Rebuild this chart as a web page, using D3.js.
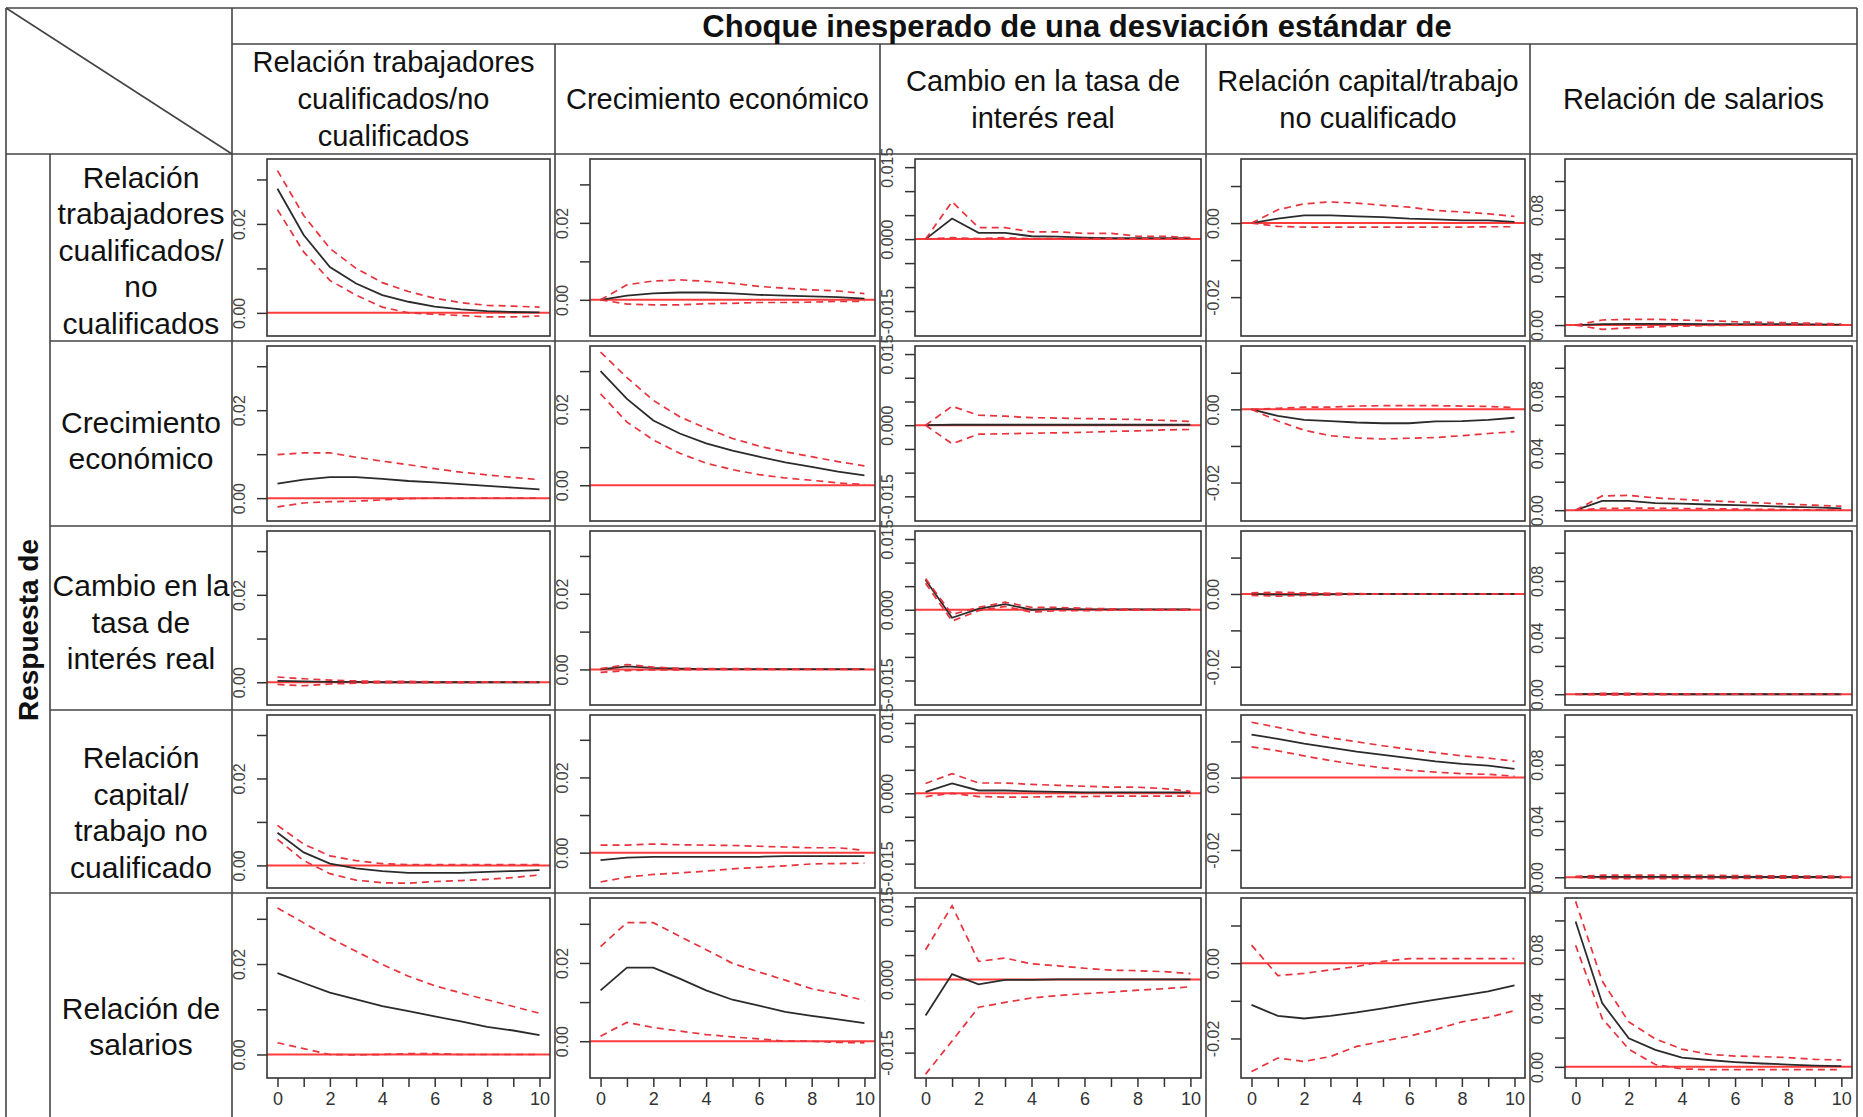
<!DOCTYPE html>
<html>
<head>
<meta charset="utf-8">
<script src="https://cdn.jsdelivr.net/npm/d3@7/dist/d3.min.js"></script>
<style>
  body { margin: 0; background: #fff; }
  svg text { font-family: "Liberation Sans", Arial, sans-serif; fill: #111; }
</style>
</head>
<body>
<div id="chart"></div>
<script>
// -- DATA -- //
const periods = [0, 1, 2, 3, 4, 5, 6, 7, 8, 9, 10];
const evenPeriods = [0, 2, 4, 6, 8, 10];

const titleText = "Choque inesperado de una desviación estándar de";
const responseTitle = "Respuesta de";

// shock columns (header lines)
const shockNames = [
    ["Relación trabajadores", "cualificados/no", "cualificados"],
    ["Crecimiento económico"],
    ["Cambio en la tasa de", "interés real"],
    ["Relación capital/trabajo", "no cualificado"],
    ["Relación de salarios"]
];

// response rows (label lines)
const responseNames = [
    ["Relación", "trabajadores", "cualificados/", "no", "cualificados"],
    ["Crecimiento", "económico"],
    ["Cambio en la", "tasa de", "interés real"],
    ["Relación", "capital/", "trabajo no", "cualificado"],
    ["Relación de", "salarios"]
];

// y range, ticks and labelled ticks of every shock column
const yDomains = [
    [-0.0052, 0.0346],
    [-0.0094, 0.0366],
    [-0.0202, 0.0167],
    [-0.0305, 0.0173],
    [-0.0076, 0.1153]
];
const yTicks = [
    [0, 0.01, 0.02, 0.03],
    [0, 0.01, 0.02, 0.03],
    [-0.015, -0.01, -0.005, 0, 0.005, 0.01, 0.015],
    [-0.02, -0.01, 0, 0.01],
    [0, 0.02, 0.04, 0.06, 0.08, 0.10]
];
const yTickLabels = [
    ["0.00", "", "0.02", ""],
    ["0.00", "", "0.02", ""],
    ["-0.015", "", "", "0.000", "", "", "0.015"],
    ["-0.02", "", "0.00", ""],
    ["0.00", "", "0.04", "", "0.08", ""]
];

// response: relación trabajadores cualificados/no cualificados (one array per shock)
const resp1Irf = [
    [0.0279, 0.0175, 0.0103, 0.0066, 0.0040, 0.0025, 0.0014, 0.0008, 0.0004, 0.0002, 0.0001],
    [0, 0.0011, 0.0017, 0.0019, 0.0019, 0.0017, 0.0013, 0.0011, 0.0009, 0.0007, 0.0003],
    [0, 0.0043, 0.0013, 0.0013, 0.0006, 0.0005, 0.0003, 0.0002, 0.0002, 0.0002, 0.0002],
    [0, 0.0012, 0.0021, 0.0021, 0.0018, 0.0016, 0.0012, 0.0010, 0.0007, 0.0007, 0.0003],
    [0, 0.0007, 0.0008, 0.0008, 0.0008, 0.0007, 0.0007, 0.0006, 0.0006, 0.0005, 0.0003]
];
const resp1Upper = [
    [0.0320, 0.0219, 0.0145, 0.0100, 0.0068, 0.0048, 0.0033, 0.0023, 0.0017, 0.0015, 0.0013],
    [0, 0.0039, 0.0049, 0.0052, 0.0048, 0.0043, 0.0035, 0.0030, 0.0026, 0.0023, 0.0016],
    [0, 0.0078, 0.0024, 0.0024, 0.0015, 0.0015, 0.0012, 0.0012, 0.0006, 0.0006, 0.0003],
    [0, 0.0036, 0.0052, 0.0057, 0.0054, 0.0048, 0.0043, 0.0034, 0.0030, 0.0025, 0.0018],
    [0, 0.0035, 0.0040, 0.0040, 0.0035, 0.0030, 0.0023, 0.0019, 0.0016, 0.0012, 0.0007]
];
const resp1Lower = [
    [0.0232, 0.0137, 0.0073, 0.0040, 0.0013, 0.0000, -0.0003, -0.0006, -0.0009, -0.0009, -0.0007],
    [0, -0.0011, -0.0013, -0.0013, -0.0010, -0.0009, -0.0007, -0.0007, -0.0006, -0.0004, -0.0004],
    [0, 0.0003, 0.0001, 0.0003, 0.0001, 0.0001, 0.0001, 0.0001, 0.0001, 0.0001, 0.0001],
    [0, -0.0009, -0.0011, -0.0011, -0.0011, -0.0011, -0.0011, -0.0011, -0.0011, -0.0010, -0.0010],
    [0, -0.0030, -0.0019, -0.0012, -0.0007, -0.0003, -0.0001, 0, 0, 0, 0]
];

// response: crecimiento económico
const resp2Irf = [
    [0.0033, 0.0042, 0.0048, 0.0048, 0.0044, 0.0039, 0.0036, 0.0032, 0.0028, 0.0024, 0.0020],
    [0.0300, 0.0227, 0.0170, 0.0136, 0.0110, 0.0091, 0.0075, 0.0060, 0.0048, 0.0036, 0.0026],
    [0, 0.0001, 0.0001, 0.0001, 0.0001, 0.0001, 0.0001, 0.0001, 0.0001, 0.0001, 0.0001],
    [0, -0.0018, -0.0029, -0.0032, -0.0036, -0.0038, -0.0038, -0.0033, -0.0032, -0.0029, -0.0023],
    [0, 0.0065, 0.0065, 0.0050, 0.0046, 0.0040, 0.0035, 0.0030, 0.0023, 0.0019, 0.0012]
];
const resp2Upper = [
    [0.0099, 0.0103, 0.0103, 0.0093, 0.0084, 0.0076, 0.0067, 0.0059, 0.0053, 0.0047, 0.0042],
    [0.0350, 0.0283, 0.0223, 0.0180, 0.0150, 0.0123, 0.0103, 0.0088, 0.0075, 0.0062, 0.0051],
    [0, 0.0040, 0.0021, 0.0019, 0.0016, 0.0015, 0.0014, 0.0013, 0.0012, 0.0010, 0.0008],
    [0, 0.0003, 0.0006, 0.0006, 0.0009, 0.0010, 0.0010, 0.0010, 0.0009, 0.0008, 0.0005],
    [0, 0.0100, 0.0104, 0.0086, 0.0076, 0.0065, 0.0058, 0.0051, 0.0042, 0.0035, 0.0028]
];
const resp2Lower = [
    [-0.0020, -0.0011, -0.0008, -0.0007, -0.0004, -0.0001, 0, 0, 0, 0, 0],
    [0.0240, 0.0166, 0.0119, 0.0084, 0.0058, 0.0041, 0.0028, 0.0019, 0.0013, 0.0006, 0.0002],
    [0, -0.0039, -0.0019, -0.0018, -0.0017, -0.0016, -0.0015, -0.0013, -0.0012, -0.0010, -0.0009],
    [0, -0.0032, -0.0057, -0.0072, -0.0078, -0.0081, -0.0079, -0.0077, -0.0072, -0.0066, -0.0061],
    [0, 0.0012, 0.0014, 0.0014, 0.0012, 0.0010, 0.0008, 0.0006, 0.0004, 0.0002, 0]
];

// response: cambio en la tasa de interés real
const resp3Irf = [
    [0.0003, 0.0002, 0.0001, 0.0001, 0, 0, 0, 0, 0, 0, 0],
    [0, 0.0008, 0.0004, 0.0002, 0.0001, 0.0001, 0.0001, 0.0001, 0.0001, 0.0001, 0.0001],
    [0.0063, -0.0017, 0.0002, 0.0012, 0.0000, 0.0002, 0.0001, 0.0001, 0.0001, 0.0001, 0.0001],
    [0, -0.0002, -0.0002, -0.0001, 0, 0, 0, 0, 0, 0, 0],
    [0, 0.0002, 0.0002, 0.0001, 0, 0, 0, 0, 0, 0, 0]
];
const resp3Upper = [
    [0.0012, 0.0008, 0.0005, 0.0003, 0.0002, 0.0002, 0.0001, 0.0001, 0.0001, 0.0001, 0.0001],
    [0.0002, 0.0013, 0.0006, 0.0003, 0.0002, 0.0002, 0.0002, 0.0001, 0.0001, 0.0001, 0.0001],
    [0.0066, -0.0010, 0.0005, 0.0016, 0.0005, 0.0005, 0.0003, 0.0002, 0.0001, 0.0001, 0.0001],
    [0.0003, 0.0005, 0.0003, 0.0002, 0.0001, 0, 0, 0, 0, 0, 0],
    [0, 0.0007, 0.0006, 0.0004, 0.0002, 0.0001, 0, 0, 0, 0, 0]
];
const resp3Lower = [
    [-0.0005, -0.0008, -0.0004, -0.0002, -0.0001, -0.0001, -0.0001, -0.0001, 0, 0, 0],
    [-0.0008, -0.0003, -0.0001, -0.0001, 0, 0, 0, 0, 0, 0, 0],
    [0.0056, -0.0024, -0.0002, 0.0007, -0.0005, -0.0002, -0.0002, -0.0001, -0.0001, -0.0001, -0.0001],
    [-0.0004, -0.0006, -0.0004, -0.0003, -0.0001, 0, 0, 0, 0, 0, 0],
    [0, -0.0005, -0.0004, -0.0003, -0.0001, 0, 0, 0, 0, 0, 0]
];

// response: relación capital/trabajo no cualificado
const resp4Irf = [
    [0.0075, 0.0030, 0.0004, -0.0007, -0.0013, -0.0017, -0.0017, -0.0017, -0.0015, -0.0013, -0.0011],
    [-0.0020, -0.0013, -0.0011, -0.0011, -0.0011, -0.0011, -0.0011, -0.0009, -0.0009, -0.0009, -0.0009],
    [0.0003, 0.0021, 0.0006, 0.0006, 0.0004, 0.0003, 0.0002, 0.0002, 0.0002, 0.0002, 0.0002],
    [0.0119, 0.0107, 0.0094, 0.0083, 0.0072, 0.0063, 0.0054, 0.0045, 0.0038, 0.0033, 0.0024],
    [0.0003, 0.0003, 0.0003, 0.0003, 0.0003, 0.0003, 0.0002, 0.0002, 0.0002, 0.0002, 0.0002]
];
const resp4Upper = [
    [0.0092, 0.0049, 0.0022, 0.0011, 0.0004, 0.0002, 0.0002, 0.0002, 0.0002, 0.0002, 0.0002],
    [0.0020, 0.0020, 0.0023, 0.0021, 0.0020, 0.0019, 0.0017, 0.0015, 0.0013, 0.0013, 0.0006],
    [0.0021, 0.0042, 0.0022, 0.0022, 0.0019, 0.0017, 0.0015, 0.0013, 0.0013, 0.0010, 0.0004],
    [0.0153, 0.0139, 0.0123, 0.0110, 0.0099, 0.0088, 0.0078, 0.0069, 0.0060, 0.0054, 0.0045],
    [0.0006, 0.0015, 0.0015, 0.0015, 0.0015, 0.0014, 0.0012, 0.0011, 0.0010, 0.0009, 0.0008]
];
const resp4Lower = [
    [0.0060, 0.0011, -0.0019, -0.0034, -0.0040, -0.0041, -0.0037, -0.0035, -0.0032, -0.0028, -0.0022],
    [-0.0078, -0.0065, -0.0058, -0.0054, -0.0049, -0.0043, -0.0039, -0.0035, -0.0030, -0.0029, -0.0028],
    [-0.0007, 0.0000, -0.0007, -0.0008, -0.0008, -0.0007, -0.0007, -0.0006, -0.0006, -0.0006, -0.0006],
    [0.0085, 0.0074, 0.0060, 0.0047, 0.0036, 0.0027, 0.0020, 0.0015, 0.0011, 0.0009, 0.0004],
    [0.0001, -0.0010, -0.0010, -0.0010, -0.0010, -0.0009, -0.0008, -0.0007, -0.0006, -0.0005, -0.0005]
];

// response: relación de salarios
const resp5Irf = [
    [0.0180, 0.0158, 0.0137, 0.0122, 0.0107, 0.0096, 0.0084, 0.0073, 0.0061, 0.0053, 0.0043],
    [0.0130, 0.0188, 0.0188, 0.0160, 0.0130, 0.0106, 0.0091, 0.0075, 0.0065, 0.0056, 0.0046],
    [-0.0074, 0.0011, -0.0010, -0.0001, -0.0001, 0, 0, 0, 0, 0, 0],
    [-0.0111, -0.0140, -0.0147, -0.0140, -0.0131, -0.0120, -0.0108, -0.0097, -0.0086, -0.0075, -0.0059],
    [0.0993, 0.0435, 0.0195, 0.0116, 0.0063, 0.0047, 0.0033, 0.0023, 0.0016, 0.0009, 0.0005]
];
const resp5Upper = [
    [0.0324, 0.0291, 0.0258, 0.0228, 0.0199, 0.0173, 0.0152, 0.0136, 0.0121, 0.0106, 0.0091],
    [0.0242, 0.0303, 0.0303, 0.0268, 0.0234, 0.0199, 0.0177, 0.0156, 0.0134, 0.0121, 0.0104],
    [0.0061, 0.0151, 0.0037, 0.0044, 0.0032, 0.0028, 0.0023, 0.0019, 0.0018, 0.0016, 0.0012],
    [0.0048, -0.0033, -0.0027, -0.0018, -0.0009, 0.0005, 0.0012, 0.0012, 0.0012, 0.0012, 0.0012],
    [0.1130, 0.0586, 0.0307, 0.0191, 0.0121, 0.0086, 0.0074, 0.0070, 0.0063, 0.0051, 0.0047]
];
const resp5Lower = [
    [0.0026, 0.0013, 0.0000, -0.0001, 0.0000, 0.0002, 0.0002, 0, 0, 0, 0],
    [0.0013, 0.0048, 0.0035, 0.0026, 0.0017, 0.0011, 0.0006, 0, 0, -0.0003, -0.0004],
    [-0.0194, -0.0126, -0.0057, -0.0047, -0.0038, -0.0033, -0.0029, -0.0026, -0.0022, -0.0019, -0.0015],
    [-0.0288, -0.0252, -0.0261, -0.0248, -0.0221, -0.0207, -0.0194, -0.0176, -0.0156, -0.0144, -0.0126],
    [0.0830, 0.0330, 0.0121, 0.0016, -0.0014, -0.0019, -0.0019, -0.0019, -0.0019, -0.0019, -0.0019]
];

const irfRows = [resp1Irf, resp2Irf, resp3Irf, resp4Irf, resp5Irf];
const upperRows = [resp1Upper, resp2Upper, resp3Upper, resp4Upper, resp5Upper];
const lowerRows = [resp1Lower, resp2Lower, resp3Lower, resp4Lower, resp5Lower];

// -- LAYOUT -- //
let width = 1863;
let height = 1117;

let tableLeft = 6;
let tableTop = 8;
let tableRight = 1857;
let titleBottom = 44;
let headerBottom = 154;
let respCol = 50;
let colEdges = [232, 555, 880, 1206, 1530, 1857];
let rowEdges = [154, 341, 526, 710, 893, 1083];
let rowLabelCenters = [250, 440, 622, 812, 1026];

let lineColor = "#444";

const svg = d3.select("#chart")
    .append("svg")
    .attr("width", width)
    .attr("height", height);

// -- TABLE -- //
let grid = svg.append("g").attr("stroke", lineColor).attr("stroke-width", 1.6);

grid.append("line").attr("x1", tableLeft).attr("y1", tableTop).attr("x2", tableRight).attr("y2", tableTop);
grid.append("line").attr("x1", tableLeft).attr("y1", tableTop).attr("x2", tableLeft).attr("y2", height);
grid.append("line").attr("x1", tableRight).attr("y1", tableTop).attr("x2", tableRight).attr("y2", height);
grid.append("line").attr("x1", colEdges[0]).attr("y1", titleBottom).attr("x2", tableRight).attr("y2", titleBottom);
grid.append("line").attr("x1", tableLeft).attr("y1", headerBottom).attr("x2", tableRight).attr("y2", headerBottom);
grid.append("line").attr("x1", respCol).attr("y1", headerBottom).attr("x2", respCol).attr("y2", height);
// diagonal in the corner cell
grid.append("line").attr("x1", tableLeft).attr("y1", tableTop).attr("x2", colEdges[0]).attr("y2", headerBottom);

colEdges.slice(0, 5).forEach((cx, i) => {
    grid.append("line")
        .attr("x1", cx).attr("x2", cx)
        .attr("y1", i === 0 ? tableTop : titleBottom)
        .attr("y2", height);
});
rowEdges.slice(1, 5).forEach((ry) => {
    grid.append("line").attr("x1", respCol).attr("x2", tableRight).attr("y1", ry).attr("y2", ry);
});

// title
svg.append("text")
    .attr("x", 1077)
    .attr("y", 26)
    .attr("dy", "0.36em")
    .attr("text-anchor", "middle")
    .attr("font-size", 31)
    .attr("font-weight", "bold")
    .text(titleText);

// vertical "Respuesta de"
svg.append("text")
    .attr("transform", "translate(28,630) rotate(-90)")
    .attr("dy", "0.36em")
    .attr("text-anchor", "middle")
    .attr("font-size", 28)
    .attr("font-weight", "bold")
    .text(responseTitle);

let lineGap = 37;

// column headers
shockNames.forEach((lines, c) => {
    let cx = (colEdges[c] + colEdges[c + 1]) / 2;
    let cy = (titleBottom + headerBottom) / 2;
    let t = svg.append("text").attr("text-anchor", "middle").attr("font-size", 29);
    lines.forEach((ln, k) => {
        t.append("tspan")
            .attr("x", cx)
            .attr("y", cy + (k - (lines.length - 1) / 2) * lineGap)
            .attr("dy", "0.36em")
            .text(ln);
    });
});

// row labels
responseNames.forEach((lines, r) => {
    let cx = (respCol + colEdges[0]) / 2;
    let t = svg.append("text").attr("text-anchor", "middle").attr("font-size", 30);
    lines.forEach((ln, k) => {
        t.append("tspan")
            .attr("x", cx)
            .attr("y", rowLabelCenters[r] + (k - (lines.length - 1) / 2) * 36.5)
            .attr("dy", "0.36em")
            .text(ln);
    });
});

// -- PANELS -- //
let drawPanel = (r, c) => {
    let left = colEdges[c] + 35;
    let right = colEdges[c + 1] - 5;
    let top = rowEdges[r] + 5;
    let bottom = r === 4 ? 1078 : rowEdges[r + 1] - 5;

    let x = d3.scaleLinear().domain([-0.4, 10.4]).range([left, right]);
    let y = d3.scaleLinear().domain(yDomains[c]).range([bottom, top]);

    let g = svg.append("g").attr("class", "panel");

    // y axis, R style labels turned on their side
    let yAxis = d3.axisLeft(y)
        .tickValues(yTicks[c])
        .tickSize(10)
        .tickFormat((d, i) => yTickLabels[c][i]);

    let ya = g.append("g")
        .attr("transform", `translate(${left},0)`)
        .call(yAxis);
    ya.select(".domain").remove();
    ya.selectAll("line").attr("stroke", "#333").attr("stroke-width", 1.5);
    ya.selectAll("text")
        .attr("x", null)
        .attr("dy", null)
        .attr("transform", "translate(-22,0) rotate(-90)")
        .attr("text-anchor", "middle")
        .attr("font-size", 16)
        .attr("font-family", null)
        .style("fill", "#444");

    // x axis only under the last row
    if (r === 4) {
        let xAxis = d3.axisBottom(x)
            .tickValues(periods)
            .tickSize(9)
            .tickPadding(5)
            .tickFormat((d) => evenPeriods.includes(d) ? d : "");
        let xa = g.append("g")
            .attr("transform", `translate(0,${bottom})`)
            .call(xAxis);
        xa.select(".domain").remove();
        xa.selectAll("line").attr("stroke", "#333").attr("stroke-width", 1.5);
        xa.selectAll("text").attr("font-size", 18).attr("font-family", null).style("fill", "#333");
    }

    let line = d3.line()
        .x((d, i) => x(periods[i]))
        .y((d) => y(d));

    // zero line
    g.append("line")
        .attr("x1", left).attr("x2", right)
        .attr("y1", y(0)).attr("y2", y(0))
        .attr("stroke", "#ff1a1a")
        .attr("stroke-opacity", 0.85)
        .attr("stroke-width", 2);

    g.append("path")
        .datum(irfRows[r][c])
        .attr("d", line)
        .attr("fill", "none")
        .attr("stroke", "#2b2b2b")
        .attr("stroke-width", 1.8);

    [upperRows[r][c], lowerRows[r][c]].forEach((band) => {
        g.append("path")
            .datum(band)
            .attr("d", line)
            .attr("fill", "none")
            .attr("stroke", "#e8323c")
            .attr("stroke-width", 1.7)
            .attr("stroke-dasharray", "7,5");
    });

    // plot box
    g.append("rect")
        .attr("x", left).attr("y", top)
        .attr("width", right - left).attr("height", bottom - top)
        .attr("fill", "none")
        .attr("stroke", "#333")
        .attr("stroke-width", 1.6);
};

for (let r = 0; r < 5; r++) {
    for (let c = 0; c < 5; c++) {
        drawPanel(r, c);
    }
}
</script>
</body>
</html>
